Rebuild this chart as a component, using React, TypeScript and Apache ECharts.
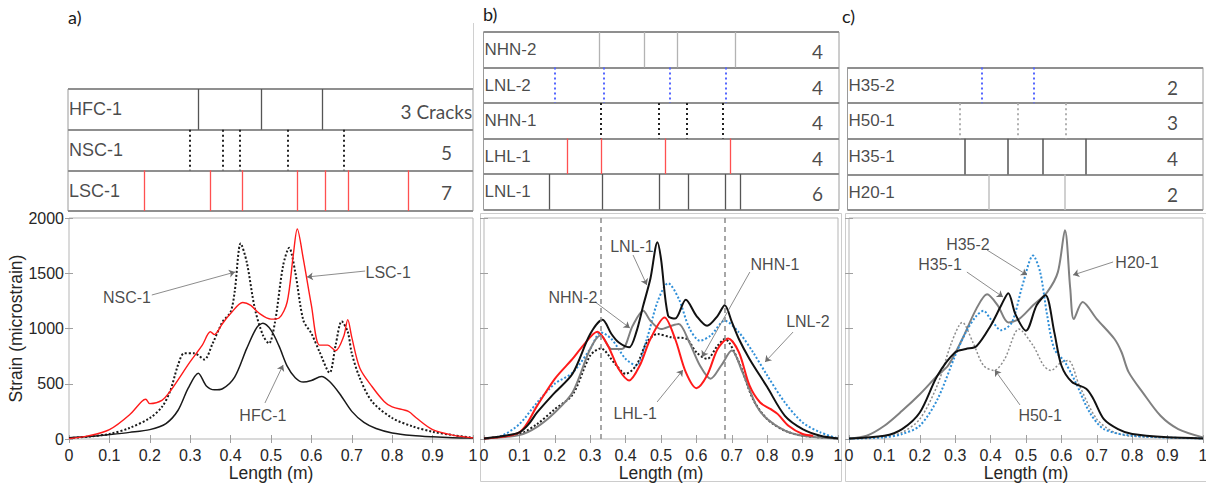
import React, { useEffect, useRef } from "react";
import * as echarts from "echarts";

type P = [number, number];

// ---------- Panel a: strain profiles ----------
const HFC1: P[] = [[0,12],[0.05,22],[0.1,40],[0.15,60],[0.2,85],[0.24,140],[0.27,260],[0.295,460],[0.32,595],[0.34,480],[0.36,445],[0.38,455],[0.41,560],[0.44,820],[0.465,1010],[0.48,1047],[0.5,985],[0.52,840],[0.54,660],[0.56,555],[0.58,515],[0.6,530],[0.625,565],[0.645,520],[0.67,410],[0.7,250],[0.73,150],[0.76,95],[0.8,55],[0.85,32],[0.9,20],[0.95,12],[1,8]];
const NSC1: P[] = [[0,8],[0.05,22],[0.1,45],[0.15,100],[0.2,190],[0.23,290],[0.25,430],[0.27,670],[0.285,775],[0.31,775],[0.335,720],[0.355,860],[0.38,1060],[0.4,1150],[0.41,1330],[0.425,1770],[0.44,1600],[0.46,1180],[0.48,940],[0.495,865],[0.51,1060],[0.53,1570],[0.545,1730],[0.56,1510],[0.58,1075],[0.6,955],[0.62,790],[0.645,600],[0.66,850],[0.675,1065],[0.69,970],[0.7,775],[0.72,550],[0.75,340],[0.8,190],[0.85,115],[0.9,65],[0.95,35],[1,10]];
const LSC1: P[] = [[0,3],[0.05,30],[0.1,85],[0.15,220],[0.18,340],[0.19,360],[0.2,320],[0.23,350],[0.25,430],[0.3,700],[0.33,850],[0.35,970],[0.36,945],[0.38,1045],[0.4,1135],[0.43,1235],[0.45,1210],[0.47,1140],[0.5,1085],[0.52,1095],[0.54,1240],[0.555,1660],[0.565,1900],[0.58,1630],[0.6,1210],[0.62,850],[0.64,850],[0.66,800],[0.68,930],[0.69,1080],[0.7,920],[0.72,640],[0.75,475],[0.78,340],[0.8,290],[0.84,250],[0.86,190],[0.9,85],[0.95,35],[1,10]];

// ---------- Panel b ----------
const LNL1: P[] = [[0,5],[0.05,25],[0.1,60],[0.125,130],[0.15,240],[0.2,420],[0.25,590],[0.3,950],[0.335,1080],[0.36,950],[0.38,875],[0.41,830],[0.43,965],[0.45,1210],[0.47,1450],[0.49,1780],[0.5,1630],[0.52,1115],[0.54,1090],[0.57,1260],[0.6,1115],[0.63,1025],[0.66,1115],[0.68,1210],[0.7,1060],[0.72,905],[0.75,725],[0.8,470],[0.85,210],[0.9,90],[0.95,30],[1,5]];
const LNL2: P[] = [[0,5],[0.05,30],[0.1,135],[0.15,330],[0.2,500],[0.25,600],[0.3,815],[0.33,965],[0.36,905],[0.4,725],[0.43,665],[0.46,905],[0.49,1240],[0.52,1410],[0.55,1270],[0.58,1005],[0.61,890],[0.64,935],[0.68,1070],[0.72,965],[0.76,785],[0.8,575],[0.85,330],[0.9,150],[0.95,60],[1,5]];
const NHN2: P[] = [[0,5],[0.1,35],[0.15,110],[0.2,240],[0.25,420],[0.3,815],[0.33,940],[0.36,815],[0.39,815],[0.42,1025],[0.45,1160],[0.47,1070],[0.5,995],[0.53,1025],[0.55,1040],[0.58,875],[0.61,665],[0.64,545],[0.67,665],[0.7,800],[0.73,605],[0.77,300],[0.8,180],[0.85,75],[0.9,30],[1,5]];
const NHN1: P[] = [[0,5],[0.1,45],[0.15,135],[0.2,270],[0.25,400],[0.3,755],[0.33,820],[0.37,680],[0.4,590],[0.43,665],[0.46,875],[0.49,950],[0.53,920],[0.57,910],[0.6,785],[0.63,725],[0.66,845],[0.68,905],[0.72,695],[0.76,360],[0.8,180],[0.85,75],[0.9,30],[1,5]];
const LHL1: P[] = [[0,5],[0.1,60],[0.15,300],[0.2,545],[0.25,725],[0.28,845],[0.32,970],[0.35,845],[0.38,635],[0.41,530],[0.44,665],[0.47,905],[0.51,1100],[0.54,905],[0.57,605],[0.6,460],[0.63,575],[0.66,815],[0.69,910],[0.72,785],[0.75,485],[0.78,330],[0.81,270],[0.83,225],[0.86,120],[0.9,45],[0.93,30]];
const GUIDES_B = [0.333, 0.679];

// ---------- Panel c ----------
const H20_1: P[] = [[0,5],[0.05,30],[0.1,120],[0.15,255],[0.2,405],[0.25,575],[0.28,665],[0.32,905],[0.36,1180],[0.39,1310],[0.42,1210],[0.45,1055],[0.48,1085],[0.52,1210],[0.56,1330],[0.59,1510],[0.61,1890],[0.625,1360],[0.635,1085],[0.66,1240],[0.7,1085],[0.75,905],[0.77,785],[0.79,605],[0.83,420],[0.88,210],[0.93,90],[1,15]];
const H35_1: P[] = [[0,5],[0.1,30],[0.15,90],[0.2,240],[0.25,575],[0.3,785],[0.33,815],[0.36,840],[0.4,1025],[0.43,1210],[0.45,1320],[0.47,1130],[0.5,980],[0.53,1210],[0.555,1300],[0.58,965],[0.6,665],[0.63,515],[0.67,455],[0.69,365],[0.72,180],[0.76,90],[0.8,45],[0.9,15],[1,5]];
const H35_2: P[] = [[0,3],[0.1,15],[0.15,45],[0.2,120],[0.25,360],[0.3,755],[0.33,965],[0.36,1115],[0.38,1160],[0.4,1085],[0.43,985],[0.46,1055],[0.49,1390],[0.52,1660],[0.54,1510],[0.56,1115],[0.58,815],[0.61,695],[0.64,515],[0.68,240],[0.72,90],[0.8,30],[1,5]];
const H50_1: P[] = [[0,3],[0.1,20],[0.15,60],[0.2,180],[0.25,490],[0.29,875],[0.32,1055],[0.35,875],[0.38,665],[0.41,620],[0.44,725],[0.48,995],[0.52,845],[0.55,665],[0.57,620],[0.6,695],[0.62,710],[0.65,490],[0.7,180],[0.75,60],[0.8,25],[1,5]];

// ---------- Crack tables ----------
const ROWS_A = ["HFC-1", "NSC-1", "LSC-1"];
const CRACKS_A = [[0.321,0.477,0.627],[0.30,0.382,0.423,0.542,0.681],[0.188,0.351,0.431,0.565,0.635,0.691,0.841]];
const COUNTS_A = [3, 5, 7];
const ROWS_B = ["NHN-2", "LNL-2", "NHN-1", "LHL-1", "LNL-1"];
const CRACKS_B = [[0.326,0.453,0.546,0.707],[0.2,0.339,0.524,0.681],[0.331,0.493,0.571,0.672],[0.235,0.331,0.511,0.693],[0.184,0.334,0.493,0.577,0.679,0.723]];
const COUNTS_B = [4, 4, 4, 4, 6];
const ROWS_C = ["H35-2", "H50-1", "H35-1", "H20-1"];
const CRACKS_C = [[0.379,0.525],[0.317,0.48,0.615],[0.33,0.45,0.549,0.669],[0.398,0.612]];
const COUNTS_C = [2, 3, 4, 2];

const X_TICKS = 0.1;
const Y_MAX = 2000;
const Y_TICKS = 500;

// annotation placements (data coordinates)
const ANN_A = [
  { text: "NSC-1", at: [0.1436, 1285], from: [0.205, 1303], to: [0.411, 1511] },
  { text: "LSC-1", at: [0.79, 1511], from: [0.733, 1520], to: [0.589, 1466] },
  { text: "HFC-1", at: [0.48, 217], from: [0.485, 326], to: [0.53, 670] },
];
const ANN_B = [
  { text: "LNL-1", at: [0.418, 1738], from: [0.421, 1665], to: [0.46, 1394] },
  { text: "NHN-2", at: [0.251, 1285], from: [0.314, 1240], to: [0.412, 1005] },
  { text: "NHN-1", at: [0.822, 1575], from: [0.751, 1511], to: [0.616, 742] },
  { text: "LNL-2", at: [0.915, 1059], from: [0.873, 968], to: [0.794, 697] },
  { text: "LHL-1", at: [0.427, 235], from: [0.489, 335], to: [0.562, 624] },
];
const ANN_C = [
  { text: "H35-2", at: [0.336, 1756], from: [0.39, 1710], to: [0.503, 1484] },
  { text: "H35-1", at: [0.257, 1575], from: [0.333, 1511], to: [0.435, 1285] },
  { text: "H20-1", at: [0.814, 1593], from: [0.746, 1602], to: [0.633, 1484] },
  { text: "H50-1", at: [0.54, 217], from: [0.483, 308], to: [0.412, 624] },
];

const SANS = "Liberation Sans, Arial, sans-serif";
const CAL = "Lato, Open Sans, sans-serif";
const TXT = "#1a1a1a";

export default function App() {
  const ref = useRef<HTMLDivElement>(null);
  useEffect(() => {
    if (!ref.current) return;
    const chart = echarts.init(ref.current, undefined, { renderer: "svg" });

    const plotGrids = [
      { left: 69, top: 218, width: 404, height: 221 },
      { left: 484, top: 218, width: 354, height: 221 },
      { left: 849, top: 218, width: 354, height: 221 },
    ];
    const tableGrids = [
      { left: 68, top: 89, width: 405, height: 122 },
      { left: 483.5, top: 32, width: 355.5, height: 177.5 },
      { left: 847.5, top: 67.5, width: 355.5, height: 142.5 },
    ];
    const grid: any[] = [
      ...plotGrids.map((g) => ({ ...g, show: true, borderColor: "#b5b5b5", borderWidth: 1, backgroundColor: "transparent", containLabel: false, outerBoundsMode: "none" })),
      ...tableGrids.map((g) => ({ ...g, show: true, borderColor: "#9a9a9a", borderWidth: 1, backgroundColor: "transparent", containLabel: false, outerBoundsMode: "none" })),
    ];

    const tick = { show: true, inside: true, length: 4, lineStyle: { color: "#a0a0a0" } };
    const xAxis: any[] = [];
    const yAxis: any[] = [];
    for (let g = 0; g < 3; g++) {
      xAxis.push({
        type: "value", gridIndex: g, min: 0, max: 1, interval: X_TICKS, position: "bottom",
        axisLine: { show: false }, axisTick: tick, splitLine: { show: false },
        axisLabel: { show: true, fontSize: 16, color: "#262626", margin: 8, fontFamily: SANS },
        name: "Length (m)", nameLocation: "middle", nameGap: 25,
        nameTextStyle: { fontSize: 17.5, color: "#262626", fontFamily: SANS },
      });
      xAxis.push({
        type: "value", gridIndex: g, min: 0, max: 1, interval: X_TICKS, position: "top",
        axisLine: { show: false }, axisTick: tick, splitLine: { show: false }, axisLabel: { show: false },
      });
      yAxis.push({
        type: "value", gridIndex: g, min: 0, max: Y_MAX, interval: Y_TICKS, position: "left",
        axisLine: { show: false }, axisTick: tick, splitLine: { show: false },
        axisLabel: { show: g === 0, fontSize: 16, color: "#262626", margin: 5, fontFamily: SANS, formatter: (v: number) => String(v) },
        name: g === 0 ? "Strain (microstrain)" : "", nameLocation: "middle", nameGap: 43, nameRotate: 90,
        nameTextStyle: { fontSize: 17.5, color: "#262626", fontFamily: SANS },
      });
      yAxis.push({
        type: "value", gridIndex: g, min: 0, max: Y_MAX, interval: Y_TICKS, position: "right",
        axisLine: { show: false }, axisTick: tick, splitLine: { show: false }, axisLabel: { show: false },
      });
    }
    const rowSets = [ROWS_A, ROWS_B, ROWS_C];
    for (let t = 0; t < 3; t++) {
      xAxis.push({ type: "value", gridIndex: 3 + t, min: 0, max: 1, show: false });
      yAxis.push({
        type: "value", gridIndex: 3 + t, min: 0, max: rowSets[t].length, interval: 1, inverse: true,
        axisLine: { show: false }, axisTick: { show: false }, axisLabel: { show: false },
        splitLine: { show: true, lineStyle: { color: "#8f8f8f", width: 2 } },
      });
    }

    const series: any[] = [];
    const curve = (g: number, name: string, data: P[], color: string, width: number, dotted: boolean, extra: any = {}) => {
      series.push({
        type: "line", name, xAxisIndex: 2 * g, yAxisIndex: 2 * g, data, showSymbol: false, symbol: "none",
        smooth: 0.3, lineStyle: { color, width, type: dotted ? [2, 2] : "solid" }, z: 3, ...extra,
      });
    };
    // panel a
    curve(0, "HFC-1", HFC1, "#1a1a1a", 1.5, false);
    curve(0, "NSC-1", NSC1, "#1a1a1a", 2, true);
    curve(0, "LSC-1", LSC1, "#ff1a1a", 1.4, false);
    // panel b
    curve(1, "LNL-2", LNL2, "#2f8fd8", 2, true, {
      markLine: {
        silent: true, symbol: ["none", "none"], label: { show: false },
        lineStyle: { color: "#8a8a8a", type: [5, 4], width: 1.5 },
        data: GUIDES_B.map((x) => ({ xAxis: x })),
      },
    });
    curve(1, "NHN-1", NHN1, "#1a1a1a", 2, true);
    curve(1, "NHN-2", NHN2, "#808080", 2, false);
    curve(1, "LHL-1", LHL1, "#ff1a1a", 2, false);
    curve(1, "LNL-1", LNL1, "#111111", 2, false);
    // panel c
    curve(2, "H20-1", H20_1, "#808080", 2, false);
    curve(2, "H50-1", H50_1, "#8c8c8c", 1.5, true);
    curve(2, "H35-2", H35_2, "#2f8fd8", 2, true);
    curve(2, "H35-1", H35_1, "#111111", 2, false);

    // annotations
    const anns = [ANN_A, ANN_B, ANN_C];
    anns.forEach((list, g) => {
      series.push({
        type: "lines", coordinateSystem: "cartesian2d", xAxisIndex: 2 * g, yAxisIndex: 2 * g,
        symbol: ["none", "arrow"], symbolSize: 6, silent: true, z: 4,
        lineStyle: { color: "#6e6e6e", width: 0.8, opacity: 1 },
        data: list.map((a) => ({ coords: [a.from, a.to] })),
      });
      series.push({
        type: "scatter", xAxisIndex: 2 * g, yAxisIndex: 2 * g, symbolSize: 0, silent: true, z: 5,
        data: list.map((a) => ({ value: a.at, name: a.text })),
        label: { show: true, position: "inside", formatter: "{b}", fontSize: 16, color: TXT, fontFamily: SANS },
      });
    });

    // crack tables
    const crackStyles = [
      [
        { color: "#555555", width: 1.3, type: "solid" },
        { color: "#222222", width: 2, type: [2, 3] },
        { color: "#ff5050", width: 1.3, type: "solid" },
      ],
      [
        { color: "#b3b3b3", width: 1.3, type: "solid" },
        { color: "#5566ff", width: 2, type: [2, 3] },
        { color: "#222222", width: 2, type: [2, 3] },
        { color: "#ff5050", width: 1.3, type: "solid" },
        { color: "#555555", width: 1.3, type: "solid" },
      ],
      [
        { color: "#5566ff", width: 2, type: [2, 3] },
        { color: "#b0b0b0", width: 2, type: [2, 3] },
        { color: "#555555", width: 1.5, type: "solid" },
        { color: "#c0c0c0", width: 1.5, type: "solid" },
      ],
    ];
    const crackSets = [CRACKS_A, CRACKS_B, CRACKS_C];
    const countSets = [COUNTS_A, COUNTS_B, COUNTS_C];
    const countX = [0.948, 0.955, 0.93];
    const rowFont = [18, 17, 17];
    for (let t = 0; t < 3; t++) {
      const ax = 6 + t;
      crackSets[t].forEach((xs, r) => {
        series.push({
          type: "lines", coordinateSystem: "cartesian2d", xAxisIndex: ax, yAxisIndex: ax,
          symbol: ["none", "none"], silent: true, z: 2,
          lineStyle: { ...crackStyles[t][r], opacity: 1 },
          data: xs.map((x) => ({ coords: [[x, r], [x, r + 1]] })),
        });
      });
      series.push({
        type: "scatter", xAxisIndex: ax, yAxisIndex: ax, symbolSize: 0, silent: true, z: 5,
        data: rowSets[t].map((n, r) => ({ value: [0, r + 0.5], name: n })),
        label: { show: true, position: "right", distance: 1, formatter: "{b}", fontSize: rowFont[t], color: TXT, fontFamily: SANS },
      });
      series.push({
        type: "scatter", xAxisIndex: ax, yAxisIndex: ax, symbolSize: 0, silent: true, z: 5,
        data: countSets[t].map((c, r) => {
          const first = t === 0 && r === 0;
          return { value: [first ? 0.998 : countX[t], r + 0.5], name: first ? `${c} Cracks` : `${c}` };
        }),
        label: { show: true, position: "left", distance: 0, offset: [0, 2], formatter: "{b}", fontSize: 19, color: TXT, fontFamily: CAL },
      });
    }

    const graphic: any[] = [
      { type: "text", left: 68, top: 8, style: { text: "a)", fontSize: 18, fill: TXT, fontFamily: CAL } },
      { type: "text", left: 483, top: 5, style: { text: "b)", fontSize: 18, fill: TXT, fontFamily: CAL } },
      { type: "text", left: 842, top: 7, style: { text: "c)", fontSize: 18, fill: TXT, fontFamily: CAL } },
      { type: "rect", shape: { x: 480.5, y: 213.5, width: 361, height: 268 }, style: { fill: "none", stroke: "#cccccc", lineWidth: 1 }, silent: true },
      { type: "rect", shape: { x: 845.5, y: 213.5, width: 365, height: 268 }, style: { fill: "none", stroke: "#cccccc", lineWidth: 1 }, silent: true },
      { type: "line", shape: { x1: 473.5, y1: 23, x2: 473.5, y2: 211 }, style: { stroke: "#d0d0d0", lineWidth: 1 }, silent: true },
    ];

    chart.setOption({
      animation: false,
      backgroundColor: "#ffffff",
      textStyle: { fontFamily: SANS },
      grid, xAxis, yAxis, series, graphic,
    });
    return () => chart.dispose();
  }, []);
  return <div ref={ref} style={{ position: "absolute", left: 0, top: 0, width: 1206, height: 487 }} />;
}
